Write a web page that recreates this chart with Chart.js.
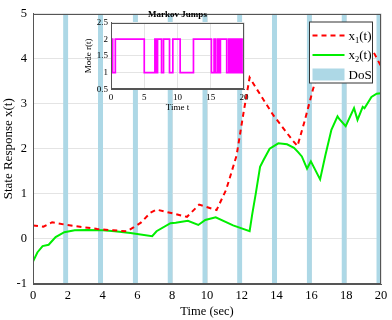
<!DOCTYPE html>
<html><head><meta charset="utf-8">
<script src="https://cdn.jsdelivr.net/npm/chart.js@4/dist/chart.umd.min.js"></script>
<style>
html,body{margin:0;padding:0;background:#fff;}
#wrap{position:relative;width:392px;height:320px;overflow:hidden;}
#main{position:absolute;left:0;top:0;}
#inset{position:absolute;left:80px;top:2px;}
</style></head><body>
<div id="wrap"><canvas id="main" width="392" height="320"></canvas><canvas id="inset" width="172" height="112"></canvas></div>
<script>
// ---- data ----
const x1T = [0, 0.6, 1.1, 1.8, 2.7, 3.7, 4.6, 5.4, 5.8, 6.2, 6.75, 7.1, 8.1, 8.85, 9.55, 10.55, 11.1, 11.7, 12.1, 12.45, 12.85, 13.8, 14.95, 15.2, 15.6, 16.1, 16.35, 17.0, 18.0, 19.0, 19.55, 20];
const x1V = [0.30, 0.27, 0.37, 0.32, 0.27, 0.22, 0.19, 0.17, 0.26, 0.36, 0.58, 0.65, 0.56, 0.49, 0.76, 0.64, 1.09, 1.85, 2.8, 3.58, 3.33, 2.75, 2.17, 2.06, 2.6, 3.33, 3.65, 4.2, 4.6, 4.5, 4.16, 3.83];
const x2T = [0, 0.25, 0.55, 0.9, 1.3, 1.8, 2.4, 3.1, 4.0, 4.7, 5.6, 6.85, 7.1, 7.9, 8.2, 8.9, 9.5, 9.9, 10.5, 11.5, 12.45, 12.6, 12.8, 13.05, 13.25, 13.6, 14.1, 14.6, 15.0, 15.25, 15.45, 15.75, 15.97, 16.5, 16.8, 17.15, 17.5, 17.6, 17.97, 18.45, 18.65, 18.95, 19.05, 19.45, 19.75, 20];
const x2V = [-0.5, -0.3, -0.16, -0.13, 0.04, 0.15, 0.19, 0.2, 0.19, 0.17, 0.13, 0.06, 0.17, 0.35, 0.36, 0.4, 0.31, 0.42, 0.48, 0.3, 0.17, 0.55, 1.0, 1.6, 1.75, 2.0, 2.12, 2.1, 2.02, 1.92, 1.83, 1.56, 1.72, 1.32, 1.85, 2.42, 2.72, 2.66, 2.5, 2.9, 2.64, 2.93, 2.9, 3.15, 3.22, 3.23];
const dosStart = [1.73, 3.73, 5.73, 7.73, 9.73, 11.73, 13.73, 15.73, 17.73, 19.73];
const dosEnd   = [2.03, 4.03, 6.03, 8.03, 10.03, 12.03, 14.03, 16.03, 18.03, 20.03];
const xTicks = [0, 2, 4, 6, 8, 10, 12, 14, 16, 18, 20];
const yTicks = [-1, 0, 1, 2, 3, 4, 5];
const seriesNames = ['x', 'x', 'DoS'];
const seriesSubs = ['1', '2', ''];
const xTitle = 'Time (sec)';
const yTitle = 'State Response x(t)';
// inset (Markov jumps)
const modeT = [0, 0.25, 0.65, 5.0, 6.6, 6.8, 7.0, 7.6, 7.9, 8.8, 9.3, 10.4, 12.4, 15.1, 15.5, 15.7, 16.0, 16.2, 16.45, 17.4, 17.7, 17.9, 18.15, 18.4, 18.6, 18.85, 19.1, 19.3, 19.55, 19.7, 19.95, 20];
const modeV = [1, 2, 1, 2, 1, 2, 1, 2, 1, 2, 1, 2, 1, 2, 1, 2, 1, 2, 1, 2, 1, 2, 1, 2, 1, 2, 1, 2, 1, 2, 1, 1];
const insetXTicks = [0, 5, 10, 15, 20];
const insetYTicks = [0.5, 1, 1.5, 2, 2.5];
const insetTitle = 'Markov Jumps';
const insetXTitle = 'Time t';
const insetYTitle = 'Mode r(t)';

const serif = "'Liberation Serif','Times New Roman',serif";
const RED = '#ff0000', GREEN = '#00ee00', DOS = '#add8e6', MAG = '#ff00ff';

const pts = (T, V) => T.map((t, i) => ({x: t, y: V[i]}));

const framePlugin = {
  id: 'frame',
  beforeDraw(chart) {
    const {ctx, chartArea: a} = chart;
    ctx.save(); ctx.fillStyle = '#fff';
    ctx.fillRect(a.left, a.top, a.right - a.left, a.bottom - a.top);
    ctx.restore();
  },
  afterDraw(chart) {
    const {ctx, chartArea: a} = chart;
    ctx.save();
    ctx.strokeStyle = '#555'; ctx.lineWidth = 1;
    const l = Math.round(a.left) + 0.5, t = Math.round(a.top) + 0.5;
    const r = Math.round(a.right) - 0.5, b = Math.round(a.bottom) - 0.5;
    ctx.strokeRect(l, t, r - l, b - t);
    ctx.restore();
  }
};

const legendPlugin = {
  id: 'boxLegend',
  afterDraw(chart) {
    const {ctx, chartArea: a} = chart;
    const ds = chart.data.datasets;
    const L = a.right - 71.5, T = a.top + 8.5, W = 63, H = 61;
    ctx.save();
    ctx.fillStyle = '#fff'; ctx.fillRect(L, T, W, H);
    ctx.strokeStyle = '#333'; ctx.lineWidth = 1; ctx.strokeRect(L, T, W, H);
    const sx0 = L + 3, sx1 = L + 35, tx = L + 39;
    const rows = [T + 13.5, T + 33, T + 53];
    const bases = [T + 17.5, T + 37, T + 57];
    ctx.lineWidth = 2;
    ctx.strokeStyle = ds[0].borderColor; ctx.setLineDash([5, 4]);
    ctx.beginPath(); ctx.moveTo(sx0, rows[0]); ctx.lineTo(sx1, rows[0]); ctx.stroke();
    ctx.setLineDash([]);
    ctx.strokeStyle = ds[1].borderColor;
    ctx.beginPath(); ctx.moveTo(sx0, rows[1]); ctx.lineTo(sx1, rows[1]); ctx.stroke();
    ctx.fillStyle = ds[2].backgroundColor;
    ctx.fillRect(sx0, rows[2] - 6.5, sx1 - sx0, 12);
    ctx.fillStyle = '#000'; ctx.textBaseline = 'alphabetic'; ctx.textAlign = 'left';
    for (let i = 0; i < 3; i++) {
      let x = tx;
      ctx.font = '13px ' + serif;
      ctx.fillText(seriesNames[i], x, bases[i]);
      x += ctx.measureText(seriesNames[i]).width;
      if (seriesSubs[i]) {
        ctx.font = '8.5px ' + serif;
        ctx.fillText(seriesSubs[i], x, bases[i] + 3);
        x += ctx.measureText(seriesSubs[i]).width;
        ctx.font = '13px ' + serif;
        ctx.fillText('(t)', x, bases[i]);
      }
    }
    ctx.restore();
  }
};

const dosSets = dosStart.map((s, i) => ({
  label: 'DoS', data: [{x: s, y: 5}, {x: dosEnd[i], y: 5}],
  borderColor: 'rgba(0,0,0,0)', borderWidth: 0, pointRadius: 0,
  backgroundColor: DOS, fill: {value: -1}
}));

new Chart(document.getElementById('main'), {
  type: 'line',
  data: {datasets: [
    {label: 'x1(t)', data: pts(x1T, x1V), borderColor: RED, borderWidth: 2, borderDash: [5, 4], pointRadius: 0, fill: false, tension: 0},
    {label: 'x2(t)', data: pts(x2T, x2V), borderColor: GREEN, borderWidth: 2, pointRadius: 0, fill: false, tension: 0},
    ...dosSets
  ]},
  options: {
    responsive: false, animation: false,
    layout: {padding: {top: 6, right: 11, left: 0, bottom: 0}},
    plugins: {legend: {display: false}, tooltip: {enabled: false}, filler: {propagate: false}},
    scales: {
      x: {type: 'linear', min: 0, max: 20,
        afterBuildTicks: s => { s.ticks = xTicks.map(v => ({value: v})); },
        afterFit: s => { s.height = 36; },
        ticks: {font: {family: serif, size: 12.5}, color: '#000', padding: 4, maxRotation: 0, autoSkip: false, callback: v => String(v)},
        grid: {color: '#e4e4e4', drawTicks: false},
        border: {display: true, color: '#555'},
        title: {display: true, text: xTitle, font: {family: serif, size: 12.5}, color: '#000', padding: {top: 0, bottom: 1}}
      },
      y: {type: 'linear', min: -1, max: 5,
        afterBuildTicks: s => { s.ticks = yTicks.map(v => ({value: v})); },
        afterFit: s => { s.width = 33; },
        ticks: {font: {family: serif, size: 12.5}, color: '#000', padding: 6, callback: v => String(v)},
        grid: {color: '#e4e4e4', drawTicks: false},
        border: {display: true, color: '#555'},
        title: {display: true, text: yTitle, font: {family: serif, size: 13}, color: '#000', padding: {top: 1, bottom: 0}}
      }
    }
  },
  plugins: [framePlugin, legendPlugin]
});

new Chart(document.getElementById('inset'), {
  type: 'line',
  data: {datasets: [
    {label: 'mode', data: pts(modeT, modeV), stepped: 'after', borderColor: MAG, borderWidth: 1.7, pointRadius: 0, fill: false}
  ]},
  options: {
    responsive: false, animation: false,
    layout: {padding: {top: 0, right: 8, left: 0, bottom: 0}},
    plugins: {legend: {display: false}, tooltip: {enabled: false},
      title: {display: true, text: insetTitle, fullSize: false, font: {family: serif, size: 9, weight: 'bold'}, color: '#000', padding: {top: 7.6, bottom: 2.1}}
    },
    scales: {
      x: {type: 'linear', min: 0, max: 20,
        afterBuildTicks: s => { s.ticks = insetXTicks.map(v => ({value: v})); },
        afterFit: s => { s.height = 24.7; },
        ticks: {font: {family: serif, size: 9}, color: '#000', padding: 3, maxRotation: 0, autoSkip: false, callback: v => String(v)},
        grid: {color: '#e4e4e4', drawTicks: false},
        border: {display: true, color: '#555'},
        title: {display: true, text: insetXTitle, font: {family: serif, size: 9}, color: '#000', padding: {top: 0, bottom: 0.6}}
      },
      y: {type: 'linear', min: 0.5, max: 2.5,
        afterBuildTicks: s => { s.ticks = insetYTicks.map(v => ({value: v})); },
        afterFit: s => { s.width = 31; },
        ticks: {font: {family: serif, size: 9}, color: '#000', padding: 3, autoSkip: false, callback: v => String(v)},
        grid: {color: '#e4e4e4', drawTicks: false},
        border: {display: true, color: '#555'},
        title: {display: true, text: insetYTitle, font: {family: serif, size: 9}, color: '#000', padding: {top: 3.6, bottom: 0}}
      }
    }
  },
  plugins: [framePlugin]
});
</script>
</body></html>
